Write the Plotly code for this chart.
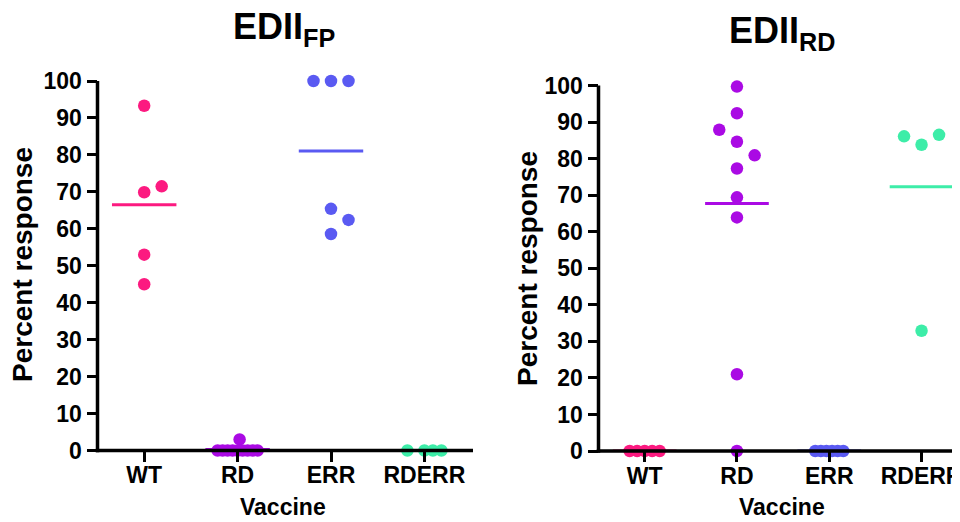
import numpy as np
import plotly.graph_objects as go

# ---------------- data ----------------
categories = ["WT", "RD", "ERR", "RDERR"]
y_ticks = [0, 10, 20, 30, 40, 50, 60, 70, 80, 90, 100]

# EDII_FP panel (percent response per animal)
fp_WT = [93.3, 69.9, 71.5, 53.0, 45.0]
fp_RD = [3.0, 0, 0, 0, 0, 0, 0, 0, 0, 0]
fp_ERR = [100, 100, 100, 65.4, 62.4, 58.6]
fp_RDERR = [0, 0, 0, 0]

# EDII_RD panel
rd_WT = [0, 0, 0, 0, 0]
rd_RD = [99.7, 92.4, 87.9, 84.6, 80.9, 77.3, 69.4, 63.9, 21.0, 0]
rd_ERR = [0, 0, 0, 0, 0, 0]
rd_RDERR = [86.1, 83.8, 86.5, 32.9]

colors = ["#FC1A80", "#AA0AE4", "#5A5AF2", "#3DEDA8"]

# ---------------- layout helpers (horizontal spread of overlapping dots, in px) ----------------
spread_fp = [
    [0, 0, 17.5, 0, 0],
    [2, -20, -10, 0, 10, 20, -15, -5, 5, 15],
    [-17.5, 0, 17.5, 0, 17.5, 0],
    [-17, 0, 8.5, 17],
]
spread_rd = [
    [-15, -7.5, 0, 7.5, 15],
    [0, 0, -17.7, 0, 17.7, 0, 0, 0, 0, 0],
    [-14, -8.4, -2.8, 2.8, 8.4, 14],
    [-17.5, 0, 17.5, 0],
]

# page geometry (the page body has an 8px margin)
OFF = 8
W, H = 960 - OFF, 522 - OFF


def fx(px):
    return (px - OFF) / W


def fy(py):
    return 1 - (py - OFF) / H


L_PX = dict(x0=97.5, x1=471, ytop=81, ybot=450.5)
R_PX = dict(x0=598.5, x1=960, ytop=85.5, ybot=451)
UNIT = {"L": 93.4, "R": 92.3}
for key, px in (("L", L_PX), ("R", R_PX)):
    px["xr"] = (-0.5, -0.5 + (px["x1"] - px["x0"]) / UNIT[key])

fig = go.Figure()
panels = [
    ([fp_WT, fp_RD, fp_ERR, fp_RDERR], spread_fp, L_PX, "x", "y"),
    ([rd_WT, rd_RD, rd_ERR, rd_RDERR], spread_rd, R_PX, "x2", "y2"),
]
for groups, spread, px, xa, ya in panels:
    unit = (px["x1"] - px["x0"]) / (px["xr"][1] - px["xr"][0])
    for i, (vals, offs) in enumerate(zip(groups, spread)):
        xs = [i + o / unit for o in offs]
        m = float(np.mean(vals))
        fig.add_trace(go.Scatter(
            x=[i - 0.345, i + 0.345], y=[m, m], mode="lines",
            line=dict(color=colors[i], width=3), xaxis=xa, yaxis=ya,
            showlegend=False, hoverinfo="skip"))
        fig.add_trace(go.Scatter(
            x=xs, y=vals, mode="markers",
            marker=dict(color=colors[i], size=12.5, line=dict(width=0)),
            xaxis=xa, yaxis=ya, showlegend=False, cliponaxis=False,
            name=categories[i]))

FONT = "Liberation Sans, Arial, sans-serif"
LW = 3.5


def xaxis_cfg(px, anchor):
    return dict(
        domain=[fx(px["x0"]), min(1.0, fx(px["x1"]))], range=list(px["xr"]),
        tickmode="array", tickvals=list(range(len(categories))), ticktext=categories,
        showline=False, anchor=anchor,
        ticks="outside", ticklen=10, tickwidth=3, tickcolor="black",
        ticklabelstandoff=-6,
        showgrid=False, zeroline=False, automargin=False, ticklabeloverflow="allow",
        tickfont=dict(family=FONT, size=23, color="black", weight="bold"),
        fixedrange=True)


def yaxis_cfg(px, anchor):
    return dict(
        domain=[fy(px["ybot"]), fy(px["ytop"])], range=[0, 100],
        tickmode="array", tickvals=y_ticks,
        showline=False, anchor=anchor,
        ticks="outside", ticklen=10, tickwidth=3, tickcolor="black",
        showgrid=False, zeroline=False, automargin=False, ticklabeloverflow="allow",
        tickfont=dict(family=FONT, size=23, color="black", weight="bold"),
        fixedrange=True)


fig.update_layout(
    template="none",
    width=W, height=H, margin=dict(l=0, r=0, t=0, b=0, autoexpand=False),
    paper_bgcolor="white", plot_bgcolor="white",
    xaxis=xaxis_cfg(L_PX, "y"),
    yaxis=yaxis_cfg(L_PX, "x"),
    xaxis2=xaxis_cfg(R_PX, "y2"),
    yaxis2=yaxis_cfg(R_PX, "x2"),
)

# axis lines drawn above the markers (as in the original), in page coordinates
for px in (L_PX, R_PX):
    fig.add_shape(type="line", xref="paper", yref="paper",
                  x0=fx(px["x0"] - LW / 2), x1=fx(px["x1"] + 2),
                  y0=fy(px["ybot"]), y1=fy(px["ybot"]), layer="above",
                  line=dict(color="black", width=LW))
    fig.add_shape(type="line", xref="paper", yref="paper",
                  x0=fx(px["x0"]), x1=fx(px["x0"]),
                  y0=fy(px["ybot"] + LW / 2), y1=fy(px["ytop"]), layer="above",
                  line=dict(color="black", width=LW))


def ann(text, xpx, ypx, size, angle=0):
    fig.add_annotation(text=text, x=fx(xpx), y=fy(ypx), xref="paper", yref="paper",
                       showarrow=False, textangle=angle, xanchor="center", yanchor="middle",
                       font=dict(family=FONT, size=size, color="black", weight="bold"))


ann("EDII<sub>FP</sub>", 284, 29, 36)
ann("EDII<sub>RD</sub>", 782, 33, 36)
ann("Percent response", 22, 265, 28, -90)
ann("Percent response", 527, 269, 28, -90)
ann("Vaccine", 283, 507, 23)
ann("Vaccine", 782, 507, 23)

fig.write_html("out.html")
